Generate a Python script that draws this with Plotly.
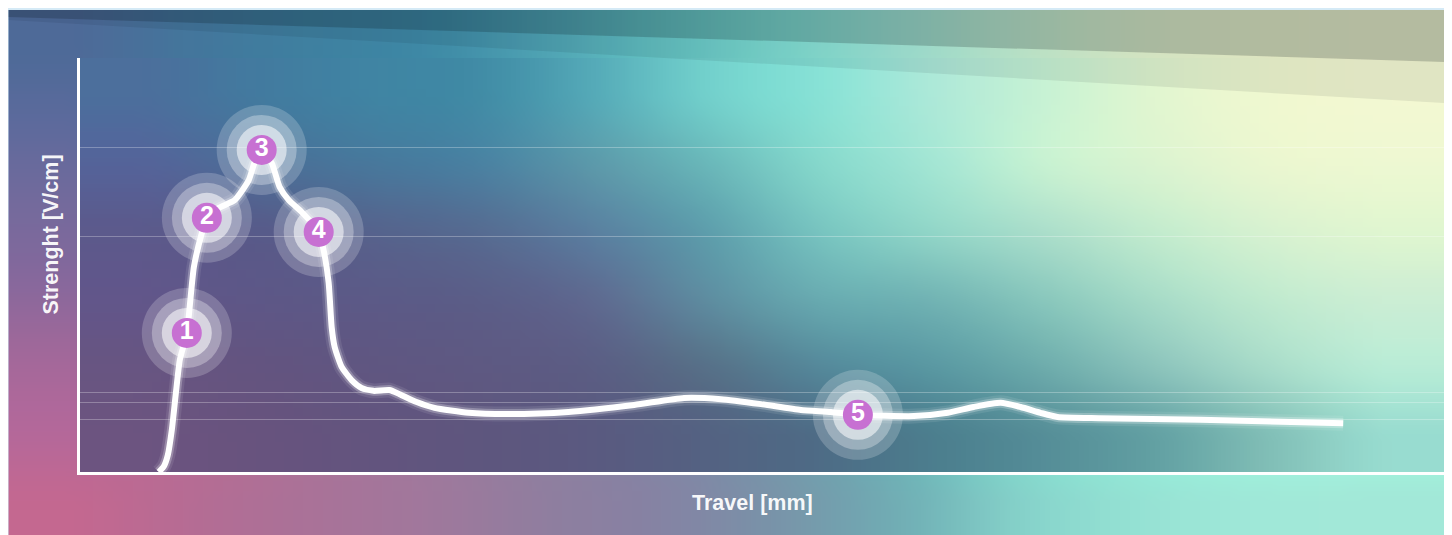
import base64
import struct
import zlib

import numpy as np
import plotly.graph_objects as go

# ---------------- data ----------------
travel_mm = [5.78, 6.15, 6.44, 6.73, 7.03, 7.32, 7.83, 8.35, 8.93, 9.30, 10.18, 11.35,
             12.37, 12.81, 13.32, 14.06, 14.64, 15.30, 16.25, 17.50, 17.86, 18.23,
             18.45, 18.67, 19.18, 19.91, 20.64, 21.52, 22.69, 23.43, 24.68, 25.99,
             28.48, 31.41, 35.80, 40.63, 44.29, 47.00, 49.93, 52.85, 55.05, 57.03,
             61.13, 63.62, 65.52, 67.50, 68.96, 70.42, 71.67, 74.82, 82.14, 92.61]
strength = [0.0, 1.4, 4.1, 10.1, 19.1, 27.1, 33.6, 49.5, 57.7, 61.4, 63.8, 65.7,
            70.5, 74.9, 77.8, 74.6, 68.8, 65.7, 62.8, 58.0, 53.6, 45.7,
            35.0, 30.2, 25.4, 22.2, 20.3, 19.6, 19.8, 18.8, 16.9, 15.5,
            14.3, 14.0, 14.5, 16.2, 17.9, 17.6, 16.4, 15.0, 14.5, 13.8,
            13.5, 14.3, 15.7, 16.7, 15.7, 14.3, 13.3, 13.0, 12.6, 11.8]

step_travel = [7.83, 9.30, 13.32, 17.50, 57.03]
step_strength = [33.6, 61.4, 77.8, 58.0, 13.8]
step_labels = ["1", "2", "3", "4", "5"]

guide_levels = [78.3, 56.8, 19.1, 16.7, 12.8]

x_title = "Travel [mm]"
y_title = "Strenght [V/cm]"

# ---------------- background styling (colour grids) ----------------
# colours seen inside the plot area (12 columns x 6 rows)
inner_grid = [
    ["#4c6f9c", "#437a9f", "#4084a3", "#418ca6", "#55aab8", "#72d0cc", "#88e2d6", "#ade9d8", "#c8f2d4", "#e2f6d0", "#f0f8d0", "#f3f8d2"],
    ["#55649a", "#4c6e98", "#48789c", "#4a82a2", "#5c9aab", "#6ab8ba", "#86d8cc", "#a4e6d4", "#c8f2d2", "#dcf4d0", "#ebf7d0", "#eef8d2"],
    ["#5c5a8c", "#585b8a", "#56638d", "#566c92", "#5a80a0", "#5e9eac", "#78c4c0", "#92d6c8", "#acdfcb", "#c4ecce", "#d8f2d0", "#e0f6d0"],
    ["#62568a", "#5e5787", "#5c5a87", "#5b5e88", "#5e6a90", "#5e8ca0", "#68aab0", "#72b4b4", "#8ac8bd", "#a8dcc8", "#c0eacf", "#cceed4"],
    ["#685582", "#645480", "#605681", "#5e5982", "#5b5e84", "#577088", "#55889a", "#5a98a2", "#6eacac", "#8cc4bc", "#a8dcca", "#b8ecd6"],
    ["#6c5480", "#68537e", "#63547e", "#5e567e", "#5a5a80", "#546282", "#4e6c86", "#4c7e8e", "#568e98", "#64a2a4", "#82c0b8", "#98dcd0"],
]
# colours seen around the plot area
outer_top = ["#4e6a98", "#44769c", "#3f80a0", "#3f8aa6", "#50a4b4", "#66c4c4", "#82dfd4", "#a6ead8", "#c8f2d4", "#e4f6d0", "#f0f8d0", "#f3f8d2"]
outer_left = ["#4e6a98", "#5e6a9c", "#736a9c", "#86689c", "#a2689a", "#b4689a", "#c46890"]
outer_bottom = ["#c46890", "#b66c94", "#aa7298", "#a0789c", "#907e9f", "#8584a4", "#7896aa", "#72b0b6", "#86d2ca", "#96e2d4", "#a0e8d8", "#a2e8d8"]

PAGE_BG = "#d5eaf6"
WHITE = "#ffffff"
PURPLE = "#c770d2"
FONT = "Liberation Sans"


def hex_rgb(h):
    h = h.lstrip("#")
    return tuple(int(h[i:i + 2], 16) for i in (0, 2, 4))


def _cubic_resample(arr, n_out, axis):
    """Catmull-Rom resampling of cell-centred samples along one axis."""
    n_in = arr.shape[axis]
    pos = (np.arange(n_out) + 0.5) * n_in / n_out - 0.5
    pos = np.clip(pos, 0, n_in - 1)
    i1 = np.floor(pos).astype(int)
    t = pos - i1
    idx = [np.clip(i1 + k, 0, n_in - 1) for k in (-1, 0, 1, 2)]
    w = [(-t ** 3 + 2 * t ** 2 - t) / 2,
         (3 * t ** 3 - 5 * t ** 2 + 2) / 2,
         (-3 * t ** 3 + 4 * t ** 2 + t) / 2,
         (t ** 3 - t ** 2) / 2]
    out = 0
    for k in range(4):
        taken = np.take(arr, idx[k], axis=axis)
        shape = [1] * arr.ndim
        shape[axis] = n_out
        out = out + taken * w[k].reshape(shape)
    return out


def png_uri(grid, out_w, out_h):
    arr = np.array([[hex_rgb(c) for c in row] for row in grid], dtype=float)
    arr = _cubic_resample(arr, out_w, 1)
    arr = _cubic_resample(arr, out_h, 0)
    arr = np.clip(np.rint(arr), 0, 255).astype(np.uint8)
    h, w = arr.shape[:2]
    raw = b"".join(b"\x00" + arr[r].tobytes() for r in range(h))

    def chunk(tag, data):
        body = tag + data
        return struct.pack(">I", len(data)) + body + struct.pack(">I", zlib.crc32(body) & 0xFFFFFFFF)

    png = (b"\x89PNG\r\n\x1a\n"
           + chunk(b"IHDR", struct.pack(">IIBBBBB", w, h, 8, 2, 0, 0, 0))
           + chunk(b"IDAT", zlib.compress(raw, 9))
           + chunk(b"IEND", b""))
    return "data:image/png;base64," + base64.b64encode(png).decode()


outer_grid = []
for j in range(7):
    if j <= 1:
        row = [outer_left[j]] + outer_top[1:]
    elif j >= 5:
        row = [outer_left[j]] + outer_bottom[1:]
    else:
        row = [outer_left[j]] * 12
    outer_grid.append(row)

# ---------------- figure geometry ----------------
# the page places the figure 8px from the window's top-left corner
OFF = 8
W, H = 1452, 535
L, T = 79.5 - OFF, 58 - OFF
R = W - (1444 - OFF)
B = H - (472 - OFF)
PW, PH = W - L - R, H - T - B


def px_x(p):
    return (p - OFF - L) / PW


def px_y(p):
    return (H - B - (p - OFF)) / PH


fig = go.Figure()

line_shape = dict(shape="spline", smoothing=0.55)
# glow + curve
fig.add_trace(go.Scatter(x=travel_mm, y=strength, mode="lines",
                         line=dict(color="rgba(255,255,255,0.09)", width=15, **line_shape),
                         hoverinfo="skip", showlegend=False))
fig.add_trace(go.Scatter(x=travel_mm, y=strength, mode="lines",
                         line=dict(color="rgba(255,255,255,0.25)", width=10, **line_shape),
                         hoverinfo="skip", showlegend=False))
fig.add_trace(go.Scatter(x=travel_mm, y=strength, mode="lines",
                         line=dict(color=WHITE, width=6, **line_shape),
                         hoverinfo="skip", showlegend=False))

# halos
for size, alpha in [(90, 0.2), (70, 0.3), (50, 0.55)]:
    fig.add_trace(go.Scatter(x=step_travel, y=step_strength, mode="markers",
                             marker=dict(size=size, color=f"rgba(255,255,255,{alpha})", line=dict(width=0)),
                             hoverinfo="skip", showlegend=False))
fig.add_trace(go.Scatter(x=step_travel, y=step_strength, mode="markers+text",
                         text=step_labels, textposition="middle center",
                         textfont=dict(family=FONT, size=25, color=WHITE, weight="bold"),
                         marker=dict(size=30, color=PURPLE, line=dict(width=0)),
                         hoverinfo="skip", showlegend=False))

# background images
panel_x0, panel_y0, panel_x1, panel_y1 = 8, 10, 1444, 545
fig.add_layout_image(dict(source=png_uri(outer_grid, 144, 54), xref="paper", yref="paper",
                          x=px_x(panel_x0), y=px_y(panel_y0),
                          sizex=px_x(panel_x1) - px_x(panel_x0), sizey=px_y(panel_y0) - px_y(panel_y1),
                          xanchor="left", yanchor="top", sizing="stretch", layer="below"))
fig.add_layout_image(dict(source=png_uri(inner_grid, 144, 48), xref="paper", yref="paper",
                          x=0, y=1, sizex=1, sizey=1,
                          xanchor="left", yanchor="top", sizing="stretch", layer="below"))


# top bands
def band(pts, color):
    path = "M " + " L ".join(f"{px_x(a):.5f},{px_y(b):.5f}" for a, b in pts) + " Z"
    fig.add_shape(type="path", path=path, xref="paper", yref="paper",
                  fillcolor=color, line=dict(width=0), layer="below")


band([(8, 10), (1444, 10), (1444, 62), (8, 17)], "rgba(0,10,20,0.26)")
band([(8, 17), (1444, 62), (1444, 103), (8, 20)], "rgba(0,10,20,0.08)")

# axis titles
fig.add_annotation(text=x_title, xref="paper", yref="paper", x=px_x(752), y=px_y(503),
                   xanchor="center", yanchor="middle", showarrow=False,
                   font=dict(family=FONT, size=21.5, color="rgba(255,255,255,0.95)", weight="bold"))
fig.add_annotation(text=y_title, xref="paper", yref="paper", x=px_x(50), y=px_y(235),
                   xanchor="center", yanchor="middle", showarrow=False, textangle=-90,
                   font=dict(family=FONT, size=21.5, color="rgba(255,255,255,0.95)", weight="bold"))

fig.update_layout(
    width=W, height=H, autosize=False,
    margin=dict(l=L, r=R, t=T, b=B, pad=0),
    paper_bgcolor=PAGE_BG, plot_bgcolor="rgba(0,0,0,0)",
    showlegend=False,
    xaxis=dict(range=[0, 100], showgrid=False, zeroline=False, showticklabels=False, ticks="",
               showline=True, linecolor=WHITE, linewidth=2.5, fixedrange=True),
    yaxis=dict(range=[0, 100], tickvals=guide_levels, showgrid=True,
               gridcolor="rgba(255,255,255,0.28)", gridwidth=1.2,
               zeroline=False, showticklabels=False, ticks="",
               showline=True, linecolor=WHITE, linewidth=2.5, fixedrange=True),
)

fig.write_html("out.html", config={"displayModeBar": False})
